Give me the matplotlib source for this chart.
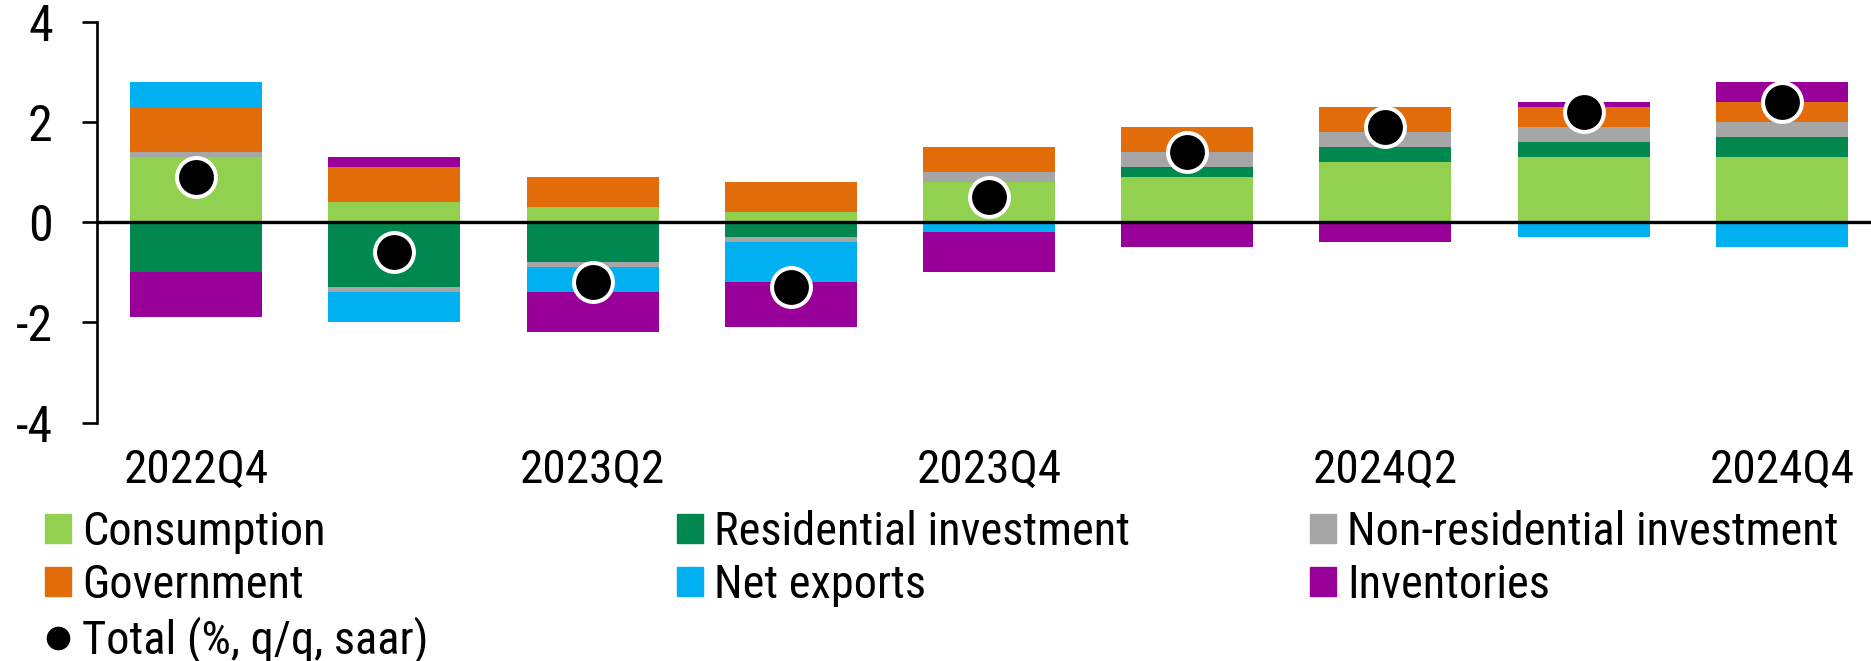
import os
import numpy as np
import matplotlib
matplotlib.use("Agg")
import matplotlib.pyplot as plt
from matplotlib import font_manager as fm
from matplotlib.font_manager import FontProperties
from matplotlib.patches import Patch
from matplotlib.lines import Line2D

quarters = ['2022Q4', '2023Q1', '2023Q2', '2023Q3', '2023Q4',
            '2024Q1', '2024Q2', '2024Q3', '2024Q4']
consumption    = [1.3, 0.4, 0.3, 0.2, 0.8, 0.9, 1.2, 1.3, 1.3]
residential    = [-1.0, -1.3, -0.8, -0.3, 0.0, 0.2, 0.3, 0.3, 0.4]
nonresidential = [0.1, -0.1, -0.1, -0.1, 0.2, 0.3, 0.3, 0.3, 0.3]
government     = [0.9, 0.7, 0.6, 0.6, 0.5, 0.5, 0.5, 0.4, 0.4]
net_exports    = [0.5, -0.6, -0.5, -0.8, -0.2, 0.0, 0.0, -0.3, -0.5]
inventories    = [-0.9, 0.2, -0.8, -0.9, -0.8, -0.5, -0.4, 0.1, 0.4]
total          = [0.9, -0.6, -1.2, -1.3, 0.5, 1.4, 1.9, 2.2, 2.4]

series_names = ['Consumption', 'Residential investment', 'Non-residential investment',
                'Government', 'Net exports', 'Inventories']
series_values = [consumption, residential, nonresidential, government, net_exports, inventories]
colors = ['#92D050', '#00884E', '#A6A6A6', '#E36C0A', '#00B0F0', '#990099']
total_label = 'Total (%, q/q, saar)'
ytick_vals = [-4, -2, 0, 2, 4]
ytick_labels = ['-4', '-2', '0', '2', '4']

# ---- pick a condensed font if one is installed ----
paths = set()
try:
    paths |= set(fm.findSystemFonts())
except Exception:
    pass
paths |= {f.fname for f in fm.fontManager.ttflist}
prefs = ['RobotoCondensed-Regular', 'DejaVuSansCondensed.ttf', 'LiberationSansNarrow-Regular',
         'OpenSans-CondensedRegular', 'OpenSans_Condensed-Regular', 'NotoSans-CondensedRegular',
         'NotoSans-Condensed.ttf']
chosen = None
for p in prefs:
    for f in sorted(paths):
        b = os.path.basename(f)
        if b == p or b.startswith(p):
            chosen = f
            break
    if chosen:
        break
if chosen is None:
    chosen = fm.findfont(FontProperties(family='Liberation Sans'))


def fp(size):
    return FontProperties(fname=chosen, size=size)


W, H = 1871, 661
fig = plt.figure(figsize=(W / 100, H / 100), dpi=100)
renderer = fig.canvas.get_renderer()


def measure(s, size):
    return renderer.get_text_width_height_descent(s, fp(size), ismath=False)


# size fonts to match reference text widths (px)
leg_size = 10 * 242 / measure('Consumption', 10)[0]
leg_size = min(leg_size, 34)
xt_size = 10 * 146 / measure('2022Q4', 10)[0]
xt_size = min(xt_size, 34)
yt_size = xt_size * 1.06

ax = fig.add_axes([97 / W, 1 - 422.7 / H, (W - 97) / W, 400.9 / H])

x = np.arange(len(quarters))
pos_bottom = np.zeros(len(quarters))
neg_bottom = np.zeros(len(quarters))
for name, vals, c in zip(series_names, series_values, colors):
    v = np.array(vals, dtype=float)
    pos = np.where(v > 0, v, 0)
    neg = np.where(v < 0, v, 0)
    ax.bar(x, pos, bottom=pos_bottom, width=0.666, color=c, linewidth=0, zorder=2)
    ax.bar(x, neg, bottom=neg_bottom, width=0.666, color=c, linewidth=0, zorder=2)
    pos_bottom += pos
    neg_bottom += neg

ax.axhline(0, color='black', lw=2.4, zorder=3)
ax.plot(x, total, linestyle='none', marker='o', markersize=28, markerfacecolor='black',
        markeredgecolor='white', markeredgewidth=2.9, zorder=4, clip_on=False)

ax.set_xlim(-0.5, 8.45)
ax.set_ylim(-4, 4)
ax.set_yticks(ytick_vals)
ax.set_yticklabels(ytick_labels, fontproperties=fp(yt_size))
ax.set_xticks(x[::2])
ax.set_xticklabels(quarters[::2], fontproperties=fp(xt_size))

for s in ['top', 'right', 'bottom']:
    ax.spines[s].set_visible(False)
ax.spines['left'].set_linewidth(1.9)

_, lph, lpd = measure('lp', xt_size)
x_pad_px = (483 - (lph - lpd)) - 422.7
ax.tick_params(axis='y', length=10.8, width=1.9, pad=21)
ax.tick_params(axis='x', length=0, pad=max(x_pad_px, 0) * 0.72)

# ---- legend (three columns) ----
fs_px = leg_size * 100 / 72
_, lph, lpd = measure('lp', leg_size)
top_px = 545 - (lph - lpd)
labelspacing = max((53 - lph) / fs_px, 0)
common = dict(frameon=False, loc='upper left', borderpad=0, borderaxespad=0,
              handlelength=26 / fs_px, handleheight=26 / fs_px, handletextpad=11 / fs_px,
              labelspacing=labelspacing, prop=fp(leg_size))
col1 = [Patch(color=colors[0]), Patch(color=colors[3]),
        Line2D([], [], linestyle='none', marker='o', markersize=16, color='black')]
fig.legend(col1, [series_names[0], series_names[3], total_label],
           bbox_to_anchor=(45 / W, 1 - top_px / H), **common)
col2 = [Patch(color=colors[1]), Patch(color=colors[4])]
fig.legend(col2, [series_names[1], series_names[4]],
           bbox_to_anchor=(677 / W, 1 - top_px / H), **common)
col3 = [Patch(color=colors[2]), Patch(color=colors[5])]
fig.legend(col3, [series_names[2], series_names[5]],
           bbox_to_anchor=(1310 / W, 1 - top_px / H), **common)

fig.savefig('out.png', dpi=100)
